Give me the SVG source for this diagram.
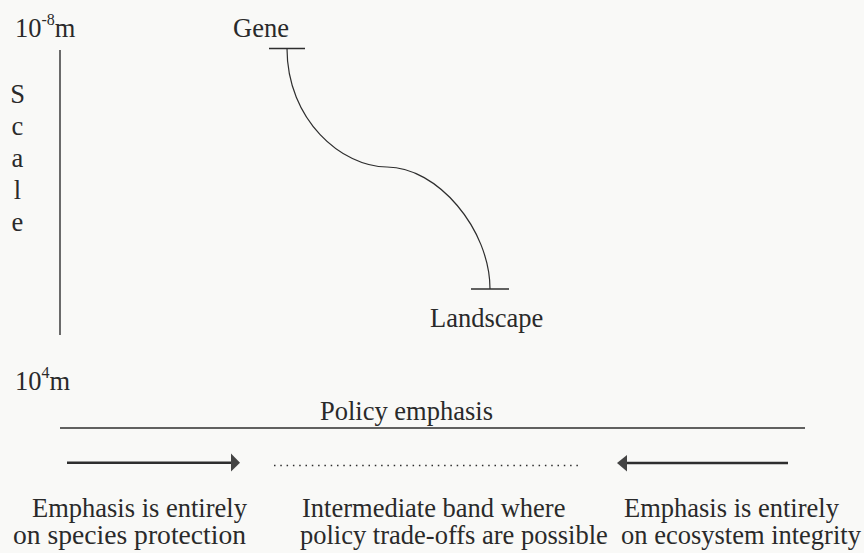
<svg xmlns="http://www.w3.org/2000/svg" width="864" height="553" viewBox="0 0 864 553">
  <defs>
    <style>
      .t { font-family: "Liberation Serif", "Times New Roman", "DejaVu Serif", serif; font-size: 26.5px; fill: #2a2a2a; }
      .sup { font-size: 16px; }
      .ln { stroke: #2e2e2e; fill: none; }
      .head { fill: #444; stroke: none; }
    </style>
  </defs>
  <rect x="0" y="0" width="864" height="553" fill="#f9f9f7"/>

  <g id="scale-axis">
    <text class="t" x="15" y="37">10<tspan class="sup" dy="-12">-8</tspan><tspan dy="12">m</tspan></text>
    <line class="ln" x1="60" y1="50" x2="60" y2="335" stroke-width="1.4"/>
    <text class="t" x="17.5" y="103" text-anchor="middle">S</text>
    <text class="t" x="17.5" y="135" text-anchor="middle">c</text>
    <text class="t" x="17.5" y="167" text-anchor="middle">a</text>
    <text class="t" x="17.5" y="199" text-anchor="middle">l</text>
    <text class="t" x="17.5" y="231" text-anchor="middle">e</text>
    <text class="t" x="15" y="390">10<tspan class="sup" dy="-12">4</tspan><tspan dy="12">m</tspan></text>
  </g>

  <g id="gene">
    <text class="t" x="233" y="37">Gene</text>
    <line class="ln" x1="269" y1="48.5" x2="305" y2="48.5" stroke-width="1.4"/>
  </g>

  <g id="landscape">
    <line class="ln" x1="471" y1="289" x2="509" y2="289" stroke-width="1.4"/>
    <text class="t" x="430" y="327">Landscape</text>
  </g>

  <g id="connectors">
    <path class="ln" stroke-width="1.2" d="M287,48.5 C287,120 342,167 387,167 C437,167 490,229 490,289"/>
    <line class="ln" x1="60" y1="428" x2="805" y2="428" stroke-width="1.4"/>
    <line class="ln" x1="67" y1="462.7" x2="233" y2="462.7" stroke-width="2.6"/>
    <polygon class="head" points="231,453.5 240,462.7 231,471.5"/>
    <line class="ln" x1="274" y1="465.5" x2="578" y2="465.5" stroke-width="1.5" stroke-dasharray="1.5,4.8"/>
    <line class="ln" x1="625" y1="463" x2="788" y2="463" stroke-width="2.6"/>
    <polygon class="head" points="627,455 617,463 627,471.5"/>
  </g>

  <g id="policy-label">
    <text class="t" x="320" y="420">Policy emphasis</text>
  </g>

  <g id="species-text">
    <text class="t" x="32" y="517">Emphasis is entirely</text>
    <text class="t" x="13" y="544" textLength="233" lengthAdjust="spacingAndGlyphs">on species protection</text>
  </g>

  <g id="intermediate-text">
    <text class="t" x="302" y="517">Intermediate band where</text>
    <text class="t" x="300" y="544">policy trade-offs are possible</text>
  </g>

  <g id="ecosystem-text">
    <text class="t" x="624" y="517">Emphasis is entirely</text>
    <text class="t" x="621" y="544">on ecosystem integrity</text>
  </g>
</svg>
